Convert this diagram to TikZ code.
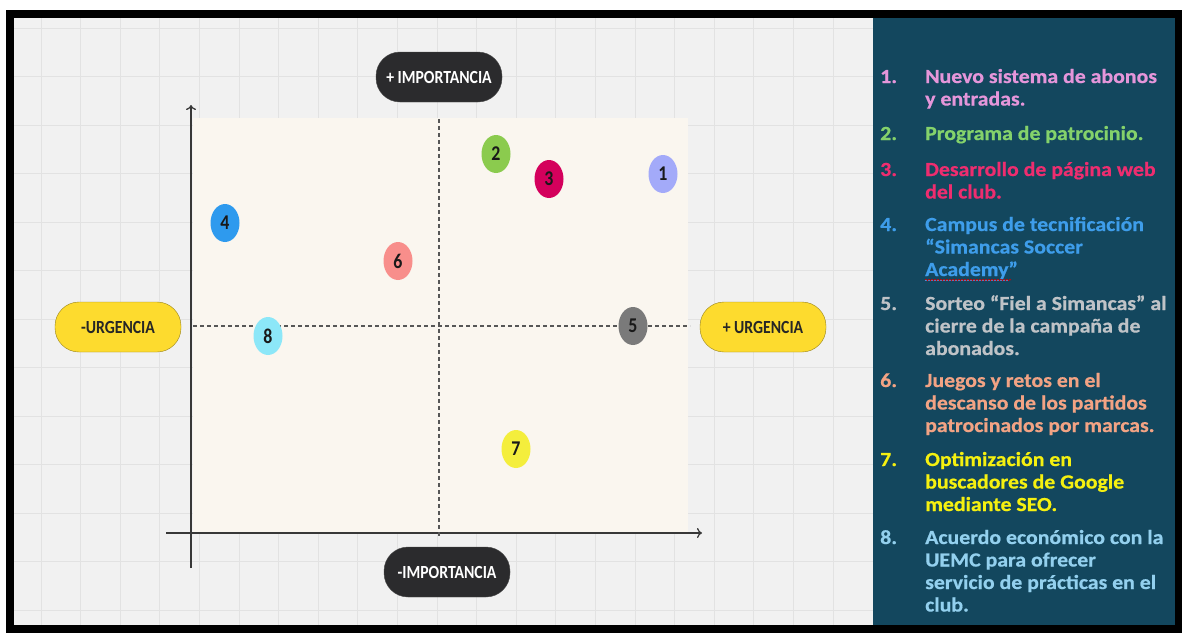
\documentclass[tikz,border=0pt]{standalone}
\usepackage{fontspec}
\setmainfont{Carlito}
\newfontfamily\pillfont[FakeStretch=0.85]{Carlito}
\newfontfamily\listfont[FakeStretch=1.09,FakeBold=0.6]{Carlito}
\usetikzlibrary{shapes.geometric,decorations.pathmorphing,arrows.meta}

\definecolor{gridbg}{HTML}{F1F1F1}
\definecolor{gridline}{HTML}{E2E2E2}
\definecolor{cream}{HTML}{FAF6EF}
\definecolor{panel}{HTML}{13475E}
\definecolor{pilldark}{HTML}{2B2B2D}
\definecolor{pillyellow}{HTML}{FDDB2E}
\definecolor{axiscol}{HTML}{383838}
% dots
\definecolor{d1}{HTML}{A3AAF9}
\definecolor{d2}{HTML}{8BCB4E}
\definecolor{d3}{HTML}{D4005C}
\definecolor{d4}{HTML}{2E9AEE}
\definecolor{d5}{HTML}{7A7A7A}
\definecolor{d6}{HTML}{F88E8B}
\definecolor{d7}{HTML}{F4EE3C}
\definecolor{d8}{HTML}{8CE7F8}
% list
\definecolor{c1}{HTML}{E596DA}
\definecolor{c2}{HTML}{84D26B}
\definecolor{c3}{HTML}{EE2D6F}
\definecolor{c4}{HTML}{3E9DEA}
\definecolor{c5}{HTML}{BFC3C7}
\definecolor{c6}{HTML}{F2A384}
\definecolor{c7}{HTML}{F5F010}
\definecolor{c8}{HTML}{93D0EE}

\begin{document}
\begin{tikzpicture}[x=1pt,y=-1pt,
    pill/.style={rounded corners=24pt, minimum width=126pt, minimum height=50pt,
        inner sep=0pt, font=\pillfont\bfseries\fontsize{18.5}{18.5}\selectfont},
    darkpill/.style={pill, fill=pilldark, draw=gray!60!black, text=white},
    yellowpill/.style={pill, fill=pillyellow, draw=black!40!pillyellow, text=black!85},
    dot/.style={ellipse, minimum width=29pt, minimum height=38pt, inner sep=0pt,
        font=\pillfont\bfseries\fontsize{21}{21}\selectfont, text=black!90},
    midline/.style={axiscol!85, line width=1.2pt, dash pattern=on 4pt off 3pt},
    axisline/.style={axiscol, line width=1.3pt, -{To[length=5pt,width=10pt]}},
    item/.style={anchor=base west, inner sep=0pt,
        font=\listfont\bfseries\fontsize{20}{22.5}\selectfont}
]
\useasboundingbox (0,0) rectangle (1182,633);
\fill[white] (0,0) rectangle (1182,633);

% board
\fill[gridbg] (13,17) rectangle (873,625);
\foreach \gx in {0,...,20}
    \draw[gridline, line width=1pt] ({41+39.6*\gx},17) -- ({41+39.6*\gx},625);
\foreach \gy in {0,...,12}
    \draw[gridline, line width=1pt] (13,{28+48.5*\gy}) -- (873,{28+48.5*\gy});
\fill[cream] (193,118) rectangle (688,534);

% side panel
\fill[panel] (873,17) rectangle (1175,625);
\draw[black, line width=7.5pt] (9.75,13.75) rectangle (1178.75,629);

% axes
\coordinate (ybot) at (191,568);
\coordinate (ytop) at (191,105);
\coordinate (xleft) at (166,533);
\coordinate (xright) at (702,533);
\draw[axisline] (ybot) -- (ytop);
\draw[axisline] (xleft) -- (xright);

\coordinate (vtop) at (439,119);
\coordinate (vbot) at (439,538);
\coordinate (hleft) at (193,326);
\coordinate (hright) at (690,326);
\draw[midline] (vtop) -- (vbot);
\draw[midline] (hleft) -- (hright);

% labels
\node[darkpill] (masimp) at (439,77) {+ IMPORTANCIA};
\node[darkpill] (menosimp) at (447,572) {-IMPORTANCIA};
\node[yellowpill] (menosurg) at (118,327) {-URGENCIA};
\node[yellowpill] (masurg) at (763,327) {+ URGENCIA};

% points
\node[dot, fill=d1] (p1) at (663,174) {1};
\node[dot, fill=d2] (p2) at (496,154) {2};
\node[dot, fill=d3] (p3) at (549,179) {3};
\node[dot, fill=d4] (p4) at (225,223) {4};
\node[dot, fill=d5] (p5) at (633,326) {5};
\node[dot, fill=d6] (p6) at (398,261) {6};
\node[dot, fill=d7] (p7) at (516,449) {7};
\node[dot, fill=d8] (p8) at (268,336) {8};

% list
\node[item, text=c1] (it1) at (880,83) {\begin{tabular}[t]{@{}p{45pt}@{}l@{}}
    1. & Nuevo sistema de abonos\\ & y entradas.\end{tabular}};
\node[item, text=c2] (it2) at (880,140) {\begin{tabular}[t]{@{}p{45pt}@{}l@{}}
    2. & Programa de patrocinio.\end{tabular}};
\node[item, text=c3] (it3) at (880,176) {\begin{tabular}[t]{@{}p{45pt}@{}l@{}}
    3. & Desarrollo de página web\\ & del club.\end{tabular}};
\node[item, text=c4] (it4) at (880,231) {\begin{tabular}[t]{@{}p{45pt}@{}l@{}}
    4. & Campus de tecnificación\\ & “Simancas Soccer\\ & \underline{Academy}”\end{tabular}};
\node[item, text=c5] (it5) at (880,310) {\begin{tabular}[t]{@{}p{45pt}@{}l@{}}
    5. & Sorteo “Fiel a Simancas” al\\ & cierre de la campaña de\\ & abonados.\end{tabular}};
\node[item, text=c6] (it6) at (880,387) {\begin{tabular}[t]{@{}p{45pt}@{}l@{}}
    6. & Juegos y retos en el\\ & descanso de los partidos\\ & patrocinados por marcas.\end{tabular}};
\node[item, text=c7] (it7) at (880,466) {\begin{tabular}[t]{@{}p{45pt}@{}l@{}}
    7. & Optimización en\\ & buscadores de Google\\ & mediante SEO.\end{tabular}};
\node[item, text=c8] (it8) at (880,544) {\begin{tabular}[t]{@{}p{45pt}@{}l@{}}
    8. & Acuerdo económico con la\\ & UEMC para ofrecer\\ & servicio de prácticas en el\\ & club.\end{tabular}};

% spell check mark
\draw[red!85!black, line width=0.6pt, decorate,
    decoration={snake, amplitude=0.7pt, segment length=3pt}] (925,280) -- (1011,280);
\end{tikzpicture}
\end{document}
